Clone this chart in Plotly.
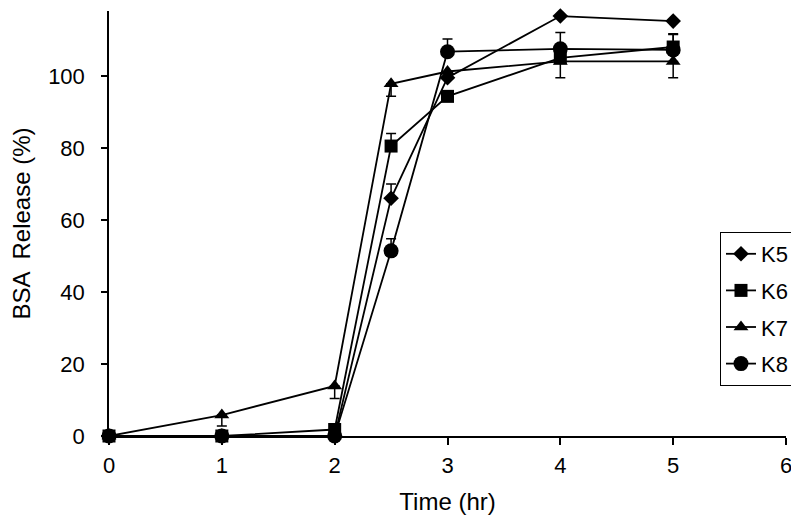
import plotly.graph_objects as go

time_hr = [0, 1, 2, 2.5, 3, 4, 5]
k5 = [0, 0, 0, 66, 99.5, 116.6, 115.2]
k6 = [0, 0, 1.8, 80.5, 94.3, 105, 108]
k7 = [0, 5.8, 13.9, 97.8, 101.2, 104, 104]
k8 = [0, 0, 0, 51.4, 106.7, 107.5, 107.2]

k5_up = [0, 0, 0, 4, 1.5, 0, 0]
k5_dn = [0, 0, 0, 0, 0, 0, 0]
k6_up = [0, 0, 0, 3.5, 0, 0, 3.5]
k6_dn = [0, 0, 0, 0, 0, 0, 0]
k7_up = [0, 0, 0, 0, 0, 0, 0]
k7_dn = [0, 3, 3.5, 3.5, 0, 4.5, 4.5]
k8_up = [0, 0, 0, 3.4, 3.5, 4.5, 4.5]
k8_dn = [0, 0, 0, 0, 0, 0, 0]

names = ["K5", "K6", "K7", "K8"]
series = {"K5": (k5, k5_up, k5_dn, "diamond", 12),
          "K6": (k6, k6_up, k6_dn, "square", 13),
          "K7": (k7, k7_up, k7_dn, "triangle-up", 13),
          "K8": (k8, k8_up, k8_dn, "circle", 15)}
draw_order = ["K8", "K7", "K5", "K6"]

fig = go.Figure()
for nm in draw_order:
    y, up, dn, sym, sz = series[nm]
    fig.add_trace(go.Scatter(
        x=time_hr, y=y, name=nm, mode="lines+markers",
        legendrank=names.index(nm) + 1, legendgroup=nm,
        line=dict(color="black", width=1.8),
        marker=dict(symbol=sym, size=sz, color="black"),
        error_y=dict(type="data", symmetric=False, array=up, arrayminus=dn,
                     color="black", thickness=1.5, width=5),
        cliponaxis=False,
    ))

font = "Arial, Liberation Sans, sans-serif"
fig.update_layout(
    width=799, height=517,
    margin=dict(l=101, r=21, t=3, b=89),
    paper_bgcolor="white", plot_bgcolor="white",
    font=dict(family=font, size=22, color="black"),
    showlegend=True,
    legend=dict(x=0.9025, y=0.48, xanchor="left", yanchor="top",
                bordercolor="black", borderwidth=1, bgcolor="white",
                font=dict(size=22), tracegroupgap=5, traceorder="grouped",
                itemwidth=30),
    xaxis=dict(range=[0, 6], tickvals=[0, 1, 2, 3, 4, 5, 6],
               showgrid=False, zeroline=False, showline=True,
               linecolor="black", linewidth=1.5, ticks="outside",
               ticklen=7, tickcolor="black", tickwidth=1.5,
               ticklabelstandoff=2,
               title=dict(text="Time (hr)", font=dict(size=24), standoff=16)),
    yaxis=dict(range=[0, 118], tickvals=[0, 20, 40, 60, 80, 100],
               showgrid=False, zeroline=False, showline=True,
               linecolor="black", linewidth=1.5, ticks="outside",
               ticklen=6, tickcolor="black", tickwidth=1.5,
               ticklabelstandoff=12,
               title=dict(text="BSA  Release (%)", font=dict(size=24), standoff=14)),
)

fig.write_html("out.html")
